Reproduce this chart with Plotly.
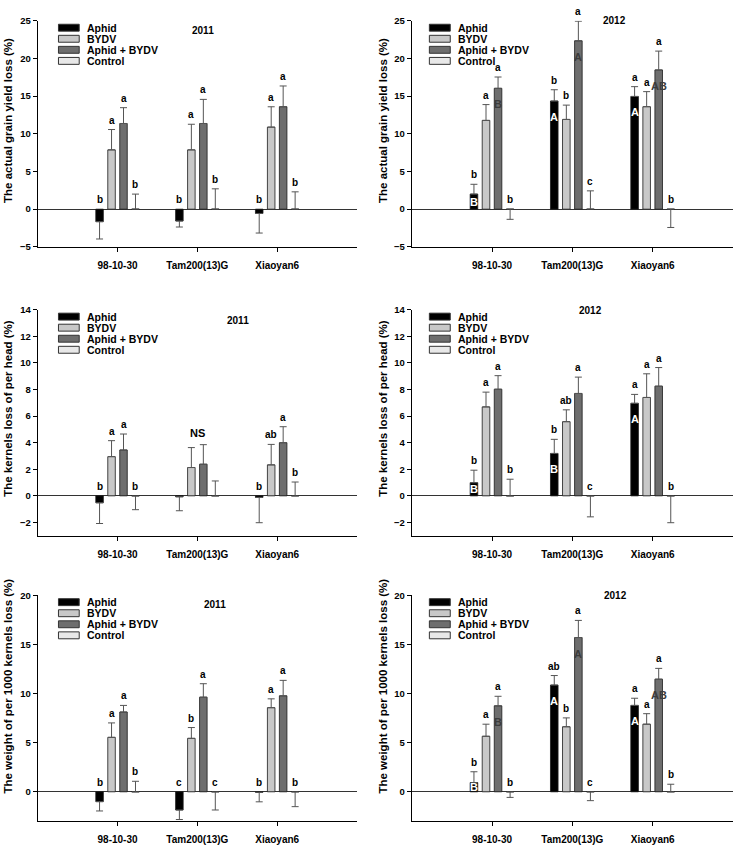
import plotly.graph_objects as go

categories = ["98-10-30", "Tam200(13)G", "Xiaoyan6"]
series_names = ["Aphid", "BYDV", "Aphid + BYDV", "Control"]

# ---- The actual grain yield loss (%) 2011 ----
yield2011_values = [[-1.66, -1.57, -0.57], [7.87, 7.87, 10.89], [11.37, 11.37, 13.6], [0, 0, 0]]
yield2011_errors = [[-2.3, -0.8, -2.6], [2.7, 3.4, 2.7], [2.1, 3.2, 2.75], [2.0, 2.7, 2.3]]
yield2011_letters = [["b", "b", "b"], ["a", "a", "a"], ["a", "a", "a"], ["b", "b", "b"]]
yield2011_inner = [["", "", ""], ["", "", ""], ["", "", ""], ["", "", ""]]
yield2011_group = ["", "", ""]

# ---- The actual grain yield loss (%) 2012 ----
yield2012_values = [[2.0, 14.35, 14.96], [11.78, 11.91, 13.6], [16.04, 22.35, 18.48], [0, 0, 0]]
yield2012_errors = [[1.3, 1.5, 1.3], [2.1, 1.9, 2.0], [1.5, 2.6, 2.5], [-1.35, 2.43, -2.43]]
yield2012_letters = [["b", "b", "a"], ["a", "b", "a"], ["a", "a", "a"], ["b", "c", "b"]]
yield2012_inner = [["B", "A", "A"], ["", "", ""], ["B", "A", "AB"], ["", "", ""]]
yield2012_group = ["", "", ""]

# ---- The kernels loss of per head (%) 2011 ----
kernels2011_values = [[-0.52, -0.07, -0.12], [2.95, 2.13, 2.33], [3.45, 2.38, 4.0], [0, 0, 0]]
kernels2011_errors = [[-1.56, -1.05, -1.9], [1.2, 1.5, 1.54], [1.2, 1.47, 1.2], [-1.04, 1.12, 1.04]]
kernels2011_letters = [["b", "", "b"], ["a", "", "ab"], ["a", "", "a"], ["b", "", "b"]]
kernels2011_inner = [["", "", ""], ["", "", ""], ["", "", ""], ["", "", ""]]
kernels2011_group = ["", "NS", ""]

# ---- The kernels loss of per head (%) 2012 ----
kernels2012_values = [[0.99, 3.19, 6.96], [6.69, 5.58, 7.4], [8.02, 7.7, 8.25], [0, 0, 0]]
kernels2012_errors = [[0.94, 1.06, 0.67], [1.11, 0.89, 1.78], [1.02, 1.23, 1.4], [1.25, -1.58, -2.02]]
kernels2012_letters = [["b", "b", "a"], ["a", "ab", "a"], ["a", "a", "a"], ["b", "c", "b"]]
kernels2012_inner = [["B", "B", "A"], ["", "", ""], ["", "", ""], ["", "", ""]]
kernels2012_group = ["", "", ""]

# ---- The weight of per 1000 kernels loss (%) 2011 ----
weight2011_values = [[-1.0, -1.85, -0.05], [5.54, 5.44, 8.56], [8.12, 9.63, 9.77], [0, 0, 0]]
weight2011_errors = [[-0.95, -0.97, -0.97], [1.47, 1.1, 0.9], [0.67, 1.37, 1.57], [1.07, -1.85, -1.51]]
weight2011_letters = [["b", "c", "b"], ["a", "b", "a"], ["a", "a", "a"], ["b", "c", "b"]]
weight2011_inner = [["", "", ""], ["", "", ""], ["", "", ""], ["", "", ""]]
weight2011_group = ["", "", ""]

# ---- The weight of per 1000 kernels loss (%) 2012 ----
weight2012_values = [[0.94, 10.86, 8.79], [5.65, 6.62, 6.88], [8.75, 15.7, 11.46], [0, 0, 0]]
weight2012_errors = [[1.1, 0.97, 0.73], [1.23, 0.9, 1.07], [0.97, 1.74, 1.1], [-0.57, -0.9, 0.77]]
weight2012_letters = [["b", "ab", "a"], ["a", "b", "a"], ["a", "a", "a"], ["b", "c", "b"]]
weight2012_inner = [["B", "A", "A"], ["", "", ""], ["B", "A", "AB"], ["", "", ""]]
weight2012_group = ["", "", ""]

y_titles = ["The actual grain yield loss (%)", "The kernels loss of per head (%)",
            "The weight of per 1000 kernels loss (%)"]
years = ["2011", "2012"]

# ---------------- styling / layout ----------------
W, H = 735, 848
FONT = "Arial, 'Liberation Sans', sans-serif"
colors = ["#000000", "#c8c8c8", "#6e6e6e", "#e8e8e8"]
inner_colors = ["#ffffff", "#000000", "#3c3c3c", "#000000"]
bargap, bargroupgap = 0.40, 0.37
slot = (1 - bargap) / 4

col_px = [(37.7, 357.0), (411.7, 733.0)]
row_top_px = [15.0, 307.7, 597.0]
panel_h_px = 229.0
yranges = [(-5, 25, 5), (-3, 14, 2), (-3, 20, 5)]

panels = [
    (yield2011_values, yield2011_errors, yield2011_letters, yield2011_inner, yield2011_group),
    (yield2012_values, yield2012_errors, yield2012_letters, yield2012_inner, yield2012_group),
    (kernels2011_values, kernels2011_errors, kernels2011_letters, kernels2011_inner, kernels2011_group),
    (kernels2012_values, kernels2012_errors, kernels2012_letters, kernels2012_inner, kernels2012_group),
    (weight2011_values, weight2011_errors, weight2011_letters, weight2011_inner, weight2011_group),
    (weight2012_values, weight2012_errors, weight2012_letters, weight2012_inner, weight2012_group),
]
year_pos = [(0.519, 0.956), (0.63, 1.0), (0.627, 0.954), (0.555, 0.997), (0.554, 0.958), (0.633, 1.0)]
ytitle_y_px = [116, 407.5, 689]
ytitle_x_px = [8.5, 383.5]
legend_x = [(0.065, 0.13, 0.148), (0.055, 0.12, 0.137)]

fig = go.Figure()
layout = dict(width=W, height=H, margin=dict(l=0, r=0, t=0, b=0),
              paper_bgcolor="white", plot_bgcolor="white",
              barmode="group", bargap=bargap, bargroupgap=bargroupgap,
              showlegend=False, font=dict(family=FONT, color="black"))
annotations, shapes = [], []

for p, (vals, errs, letters, inner, group) in enumerate(panels):
    row, col = divmod(p, 2)
    k = p + 1
    xa = "x" if k == 1 else f"x{k}"
    ya = "y" if k == 1 else f"y{k}"
    xl, xr = col_px[col]
    top = row_top_px[row]
    ymin, ymax, dt = yranges[row]
    ppu = panel_h_px / (ymax - ymin)

    layout["xaxis" if k == 1 else f"xaxis{k}"] = dict(
        domain=[xl / W, xr / W], anchor=ya, type="category",
        categoryorder="array", categoryarray=categories, range=[-1, 3],
        showline=True, linecolor="black", linewidth=1, showgrid=False, zeroline=False,
        ticks="outside", ticklen=4, tickcolor="black", ticklabelstandoff=5,
        tickfont=dict(family=FONT, size=10, color="black", weight="bold"))
    layout["yaxis" if k == 1 else f"yaxis{k}"] = dict(
        domain=[1 - (top + panel_h_px) / H, 1 - top / H], anchor=xa,
        range=[ymin, ymax], tick0=0, dtick=dt,
        showline=True, linecolor="black", linewidth=1, showgrid=False,
        zeroline=True, zerolinecolor="#333333", zerolinewidth=1,
        ticks="outside", ticklen=4, tickcolor="black",
        tickfont=dict(family=FONT, size=9.5, color="black", weight="bold"))

    for i, name in enumerate(series_names):
        plus = [max(e, 0) for e in errs[i]]
        minus = [max(-e, 0) for e in errs[i]]
        fig.add_trace(go.Bar(
            x=categories, y=vals[i], name=name, xaxis=xa, yaxis=ya,
            marker=dict(color=colors[i], line=dict(color="#1a1a1a", width=0.8)),
            error_y=dict(type="data", symmetric=False, array=plus, arrayminus=minus,
                         color="#555555", thickness=1, width=3.5),
            showlegend=False))
        for j in range(len(categories)):
            v, e = vals[i][j], errs[i][j]
            xpos = j + (i - 1.5) * slot
            ytop = max(0, v, v + max(e, 0))
            if letters[i][j]:
                annotations.append(dict(
                    x=xpos, y=ytop, xref=xa, yref=ya, text=letters[i][j], showarrow=False,
                    xanchor="center", yanchor="bottom", yshift=2,
                    font=dict(family=FONT, size=10, color="black", weight="bold")))
            if inner[i][j]:
                hpx = abs(v) * ppu
                annotations.append(dict(
                    x=xpos, y=v, xref=xa, yref=ya, text=inner[i][j], showarrow=False,
                    xanchor="center", yanchor="middle", yshift=-min(16, hpx / 2),
                    font=dict(family=FONT, size=11, color=inner_colors[i], weight="bold")))

    for j, g in enumerate(group):
        if g:
            gtop = max(max(0, vals[i][j], vals[i][j] + max(errs[i][j], 0)) for i in range(4))
            annotations.append(dict(
                x=j, y=gtop, xref=xa, yref=ya, text=g, showarrow=False,
                xanchor="center", yanchor="bottom", yshift=4,
                font=dict(family=FONT, size=11, color="black", weight="bold")))

    # legend (per panel)
    lx0, lx1, ltx = legend_x[col]
    row_h = 11.2 / panel_h_px
    patch_h = 7 / panel_h_px
    y0c = 1 - 7 / panel_h_px
    for i, name in enumerate(series_names):
        yc = y0c - i * row_h
        shapes.append(dict(type="rect", xref=f"{xa} domain", yref=f"{ya} domain",
                           x0=lx0, x1=lx1, y0=yc - patch_h / 2, y1=yc + patch_h / 2,
                           fillcolor=colors[i], line=dict(color="#333333", width=1)))
        annotations.append(dict(x=ltx, y=yc, xref=f"{xa} domain", yref=f"{ya} domain",
                                text=name, showarrow=False, xanchor="left", yanchor="middle",
                                font=dict(family=FONT, size=10.5, color="black", weight="bold")))

    yx, yy = year_pos[p]
    annotations.append(dict(x=yx, y=yy, xref=f"{xa} domain", yref=f"{ya} domain",
                            text=years[col], showarrow=False, xanchor="center", yanchor="middle",
                            font=dict(family=FONT, size=10, color="black", weight="bold")))
    annotations.append(dict(x=ytitle_x_px[col] / W, y=1 - ytitle_y_px[row] / H, xref="paper",
                            yref="paper", text=y_titles[row], textangle=-90, showarrow=False,
                            xanchor="center", yanchor="middle",
                            font=dict(family=FONT, size=11.5, color="black", weight="bold")))

layout["annotations"] = annotations
layout["shapes"] = shapes
fig.update_layout(**layout)
fig.write_html("out.html", config={"displayModeBar": False},
               post_script="document.body.style.margin='0px';document.body.style.padding='0px';")
